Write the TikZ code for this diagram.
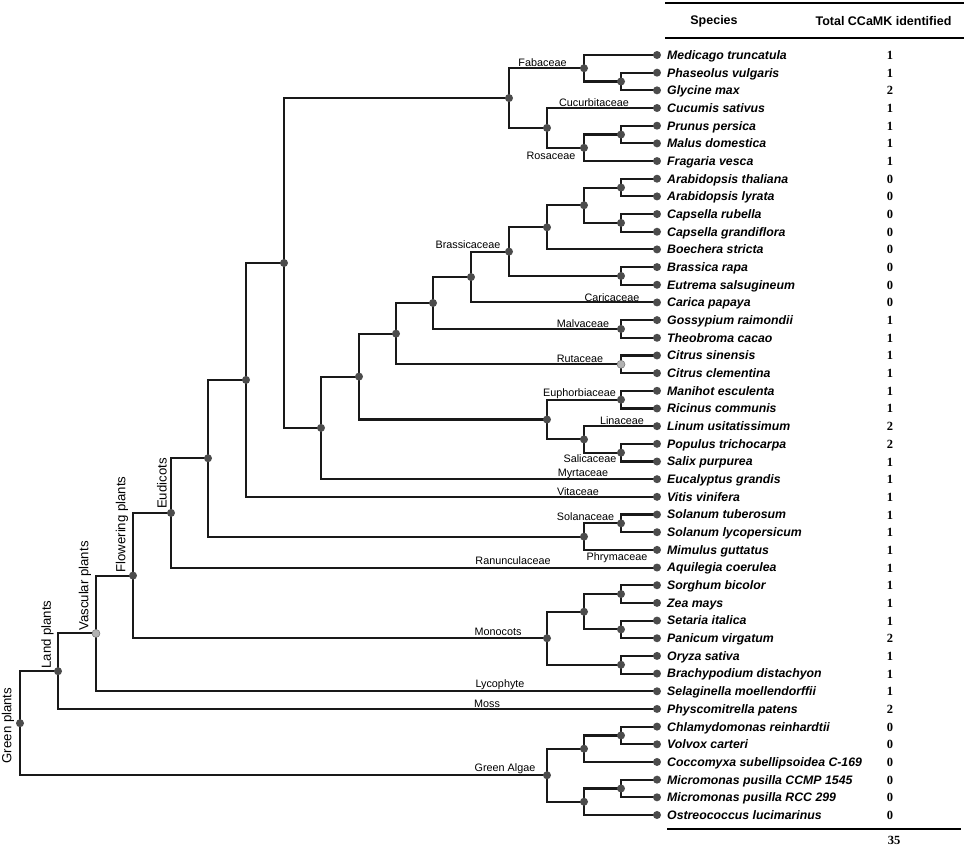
\documentclass[tikz,border=0pt]{standalone}
\usepackage{fontspec}
\usetikzlibrary{calc}
\setmainfont{Liberation Sans}
\newfontfamily\numfont{Liberation Serif}
\begin{document}
\begin{tikzpicture}[x=1pt,y=-1pt,
  branch/.style={line width=2.1pt,color=black!90},
  dotn/.style={circle,fill=black!70,inner sep=0pt,minimum size=8pt},
  dotg/.style={circle,fill=black!30,draw=black!55,line width=0.5pt,inner sep=0pt,minimum size=8pt},
  species/.style={anchor=base west,inner sep=0pt,font=\fontsize{12.3}{14}\selectfont\bfseries\itshape},
  count/.style={anchor=base,inner sep=0pt,font=\fontsize{12.5}{14}\selectfont\numfont\bfseries},
  clade/.style={anchor=base,inner sep=0pt,font=\fontsize{10.8}{12}\selectfont},
  major/.style={rotate=90,anchor=center,inner sep=0pt,font=\fontsize{13.2}{15}\selectfont},
  header/.style={anchor=center,inner sep=0pt,font=\fontsize{12.5}{14}\selectfont\bfseries},
  rule/.style={line width=2.6pt,color=black}]
\useasboundingbox (0,0) rectangle (964,846);

% leaf coordinates
\foreach \i in {0,...,43}{
  \coordinate (l\i) at (657,{55+\i*17.674});
}
% internal nodes
\coordinate (pg) at (621,81.51);
\coordinate (fab) at (584,68.26);
\coordinate (pm) at (621,134.54);
\coordinate (ros) at (584,147.79);
\coordinate (rosales) at (547,127.91);
\coordinate (fabros) at (509,98.08);
\coordinate (ara) at (621,187.55);
\coordinate (cap) at (621,222.90);
\coordinate (ac) at (584,205.23);
\coordinate (acb) at (547,227.32);
\coordinate (be) at (621,275.93);
\coordinate (bra) at (509,251.62);
\coordinate (brc) at (471,277.03);
\coordinate (mal) at (621,328.95);
\coordinate (bm) at (433,302.99);
\coordinate (rut) at (621,364.30);
\coordinate (bmr) at (396,333.64);
\coordinate (eup) at (621,399.64);
\coordinate (sal) at (621,452.66);
\coordinate (linsal) at (584,439.41);
\coordinate (malp) at (547,419.52);
\coordinate (malv) at (359,376.58);
\coordinate (myr) at (321,427.88);
\coordinate (rosids) at (284,262.98);
\coordinate (etwo) at (246,379.91);
\coordinate (sol) at (621,523.36);
\coordinate (solan) at (584,536.62);
\coordinate (eone) at (208,458.26);
\coordinate (eud) at (171,512.91);
\coordinate (sz) at (621,594.06);
\coordinate (sp) at (621,629.41);
\coordinate (szsp) at (584,611.73);
\coordinate (ob) at (621,664.75);
\coordinate (mono) at (547,638.24);
\coordinate (flow) at (133,575.58);
\coordinate (vasc) at (96,633.42);
\coordinate (land) at (58,671.18);
\coordinate (cv) at (621,735.45);
\coordinate (cvc) at (584,748.71);
\coordinate (mm) at (621,788.47);
\coordinate (mmo) at (584,801.73);
\coordinate (alg) at (547,775.22);
\coordinate (root) at (20,723.2);

% branches (parent: child1, child2)
\foreach \p/\a/\b in {pg/l1/l2, fab/l0/pg, pm/l4/l5, ros/pm/l6, rosales/l3/ros, fabros/fab/rosales,
  ara/l7/l8, cap/l9/l10, ac/ara/cap, acb/ac/l11, be/l12/l13, bra/acb/be, brc/bra/l14,
  mal/l15/l16, bm/brc/mal, rut/l17/l18, bmr/bm/rut, eup/l19/l20, sal/l22/l23, linsal/l21/sal,
  malp/eup/linsal, malv/bmr/malp, myr/malv/l24, rosids/fabros/myr, etwo/rosids/l25,
  sol/l26/l27, solan/sol/l28, eone/etwo/solan, eud/eone/l29,
  sz/l30/l31, sp/l32/l33, szsp/sz/sp, ob/l34/l35, mono/szsp/ob, flow/eud/mono,
  vasc/flow/l36, land/vasc/l37, cv/l38/l39, cvc/cv/l40, mm/l41/l42, mmo/mm/l43, alg/cvc/mmo,
  root/land/alg}{
  \draw[branch] (\a) -| (\p) |- (\b);
}

% internal dots
\foreach \n in {pg,fab,pm,ros,rosales,fabros,ara,cap,ac,acb,be,bra,brc,mal,bm,bmr,eup,sal,linsal,
  malp,malv,myr,rosids,etwo,sol,solan,eone,eud,sz,sp,szsp,ob,mono,flow,land,cv,cvc,mm,mmo,alg,root}{
  \node[dotn] (d\n) at (\n) {};
}
\node[dotg] (drut) at (rut) {};
\node[dotg] (dvasc) at (vasc) {};
% leaf dots
\foreach \i in {0,...,43}{
  \node[dotn] (dl\i) at (l\i) {};
}

% species names and counts
\foreach \i/\s/\c in {
 0/Medicago truncatula/1, 1/Phaseolus vulgaris/1, 2/Glycine max/2, 3/Cucumis sativus/1,
 4/Prunus persica/1, 5/Malus domestica/1, 6/Fragaria vesca/1, 7/Arabidopsis thaliana/0,
 8/Arabidopsis lyrata/0, 9/Capsella rubella/0, 10/Capsella grandiflora/0, 11/Boechera stricta/0,
 12/Brassica rapa/0, 13/Eutrema salsugineum/0, 14/Carica papaya/0, 15/Gossypium raimondii/1,
 16/Theobroma cacao/1, 17/Citrus sinensis/1, 18/Citrus clementina/1, 19/Manihot esculenta/1,
 20/Ricinus communis/1, 21/Linum usitatissimum/2, 22/Populus trichocarpa/2, 23/Salix purpurea/1,
 24/Eucalyptus grandis/1, 25/Vitis vinifera/1, 26/Solanum tuberosum/1, 27/Solanum lycopersicum/1,
 28/Mimulus guttatus/1, 29/Aquilegia coerulea/1, 30/Sorghum bicolor/1, 31/Zea mays/1,
 32/Setaria italica/1, 33/Panicum virgatum/2, 34/Oryza sativa/1, 35/Brachypodium distachyon/1,
 36/Selaginella moellendorffii/1, 37/Physcomitrella patens/2, 38/Chlamydomonas reinhardtii/0,
 39/Volvox carteri/0, 40/Coccomyxa subellipsoidea C-169/0, 41/Micromonas pusilla CCMP 1545/0,
 42/Micromonas pusilla RCC 299/0, 43/Ostreococcus lucimarinus/0}{
  \node[species] (s\i) at ($(l\i)+(10,4.4)$) {\s};
  \node[count] (c\i) at (890,{55+\i*17.674+4.5}) {\c};
}

% clade labels
\foreach \x/\y/\t in {542.5/63/Fabaceae, 594/103/Cucurbitaceae, 551/156/Rosaceae,
  468/245/Brassicaceae, 612/298/Caricaceae, 583/324/Malvaceae, 580/359/Rutaceae,
  579.5/393/Euphorbiaceae, 622/421/Linaceae, 590/459/Salicaceae, 583/473/Myrtaceae,
  578/492/Vitaceae, 585.5/517/Solanaceae, 617/557/Phrymaceae, 513/561/Ranunculaceae,
  498/632/Monocots, 500/684/Lycophyte, 487/704/Moss, 505/768/Green Algae}{
  \node[clade] at (\x,\y+3.8) {\t};
}

% major clade labels (vertical)
\node[major] (gp) at (8,725.5) {Green plants};
\node[major] (lp) at (47.5,634.5) {Land plants};
\node[major] (vp) at (85,586) {Vascular plants};
\node[major] (fp) at (122,524.5) {Flowering plants};
\node[major] (eu) at (162,483.5) {Eudicots};

% table header and rules
\coordinate (t1a) at (665,3); \coordinate (t1b) at (964,3);
\coordinate (t2a) at (665,38); \coordinate (t2b) at (964,38);
\coordinate (t3a) at (667,829); \coordinate (t3b) at (961,829);
\draw[rule] (t1a) -- (t1b);
\draw[rule] (t2a) -- (t2b);
\draw[rule] (t3a) -- (t3b);
\node[header] (hs) at (714,21) {Species};
\node[header] (ht) at (883.5,21) {Total CCaMK identified};
\node[count] (tot) at (894,844.5) {35};
\end{tikzpicture}
\end{document}
